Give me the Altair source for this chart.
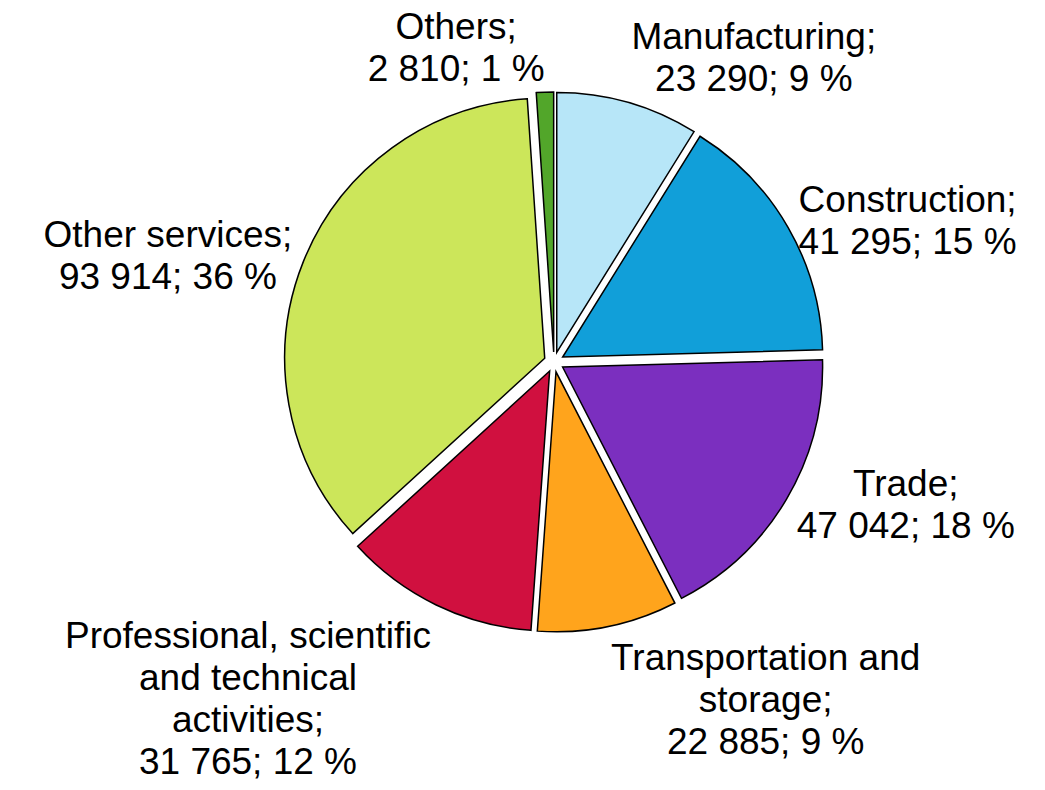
import math
import altair as alt
import pandas as pd

# ---- data ----
sectors = ["Manufacturing", "Construction", "Trade", "Transportation and storage",
           "Professional, scientific and technical activities", "Other services", "Others"]
label_names = ["Manufacturing", "Construction", "Trade", "Transportation and\nstorage",
               "Professional, scientific\nand technical\nactivities", "Other services", "Others"]
values = [23290, 41295, 47042, 22885, 31765, 93914, 2810]
percents = [9, 15, 18, 9, 12, 36, 1]
colors = ["#B7E6F8", "#119FD9", "#7B2FBF", "#FFA41C", "#D0103F", "#CCE65A", "#52A62A"]

# ---- style / layout ----
FONT = "Liberation Sans"
FS = 37
LH = 42
W, H = 1029, 774
CX, CY = 546, 354          # pie centre inside the view
R = 260                    # pie radius
EXPL = 10                  # explode distance
LR = 282                   # label anchor distance

# Arial/Helvetica advance widths (per 1000 em) for measuring label blocks
AW = {" ": 278, ";": 278, ",": 278, "%": 889, "C": 722, "M": 833, "O": 778, "P": 667, "T": 611,
      "a": 556, "b": 556, "c": 500, "d": 556, "e": 556, "f": 278, "g": 556, "h": 556, "i": 222,
      "j": 222, "k": 500, "l": 222, "m": 833, "n": 556, "o": 556, "p": 556, "q": 556, "r": 333,
      "s": 500, "t": 278, "u": 556, "v": 500, "w": 722, "x": 500, "y": 500, "z": 500}


def text_w(s):
    return sum(AW.get(ch, 556) for ch in s) * FS / 1000.0


def fmt(v):
    return f"{v:,}".replace(",", " ")


labels = [f"{n};\n{fmt(v)}; {p} %" for n, v, p in zip(label_names, values, percents)]
n_lines = [len(lab.split("\n")) for lab in labels]
half_w = [max(text_w(line) for line in lab.split("\n")) / 2 for lab in labels]
half_h_below = [n * LH / 2 for n in n_lines]                    # block hanging below the pie
half_h_above = [(n - 1) * LH / 2 + 0.28 * FS for n in n_lines]  # block sitting above the pie
first_off = [(n - 1) * LH / 2 for n in n_lines]                 # block centre -> first line

df = pd.DataFrame({
    "sector": sectors,
    "value": values,
    "idx": list(range(len(sectors))),
    "label": labels,
    "hw": half_w,
    "hb": half_h_below,
    "ha": half_h_above,
    "fo": first_off,
})

xscale = alt.Scale(domain=[-CX, W - CX], range=[0, W], zero=False, nice=False)
yscale = alt.Scale(domain=[-(H - CY), CY], range=[H, 0], zero=False, nice=False)

base = alt.Chart(df).transform_joinaggregate(
    total="sum(value)"
).transform_window(
    cum="sum(value)", sort=[alt.SortField("idx", order="ascending")], frame=[None, 0]
).transform_calculate(
    start="(datum.cum - datum.value) / datum.total",
    end="datum.cum / datum.total",
).transform_calculate(
    mid="PI * (datum.start + datum.end)"
).transform_calculate(
    ex=f"{EXPL} * sin(datum.mid)",
    ey=f"{EXPL} * cos(datum.mid)",
    lx=f"{LR} * sin(datum.mid) + (sin(datum.mid) >= 0 ? 1 : -1) * datum.hw",
    ly=(f"{LR} * cos(datum.mid) + (cos(datum.mid) > 0.8 ? datum.ha : "
        f"(cos(datum.mid) < -0.8 ? -datum.hb : 0)) + datum.fo"),
)

pie = base.mark_arc(radius=R, stroke="black", strokeWidth=1.5).encode(
    x=alt.X("ex:Q", scale=xscale, axis=None),
    y=alt.Y("ey:Q", scale=yscale, axis=None),
    theta=alt.Theta("start:Q", stack=None,
                    scale=alt.Scale(domain=[0, 1], range=[0, 2 * math.pi])),
    theta2="end:Q",
    color=alt.Color("sector:N", scale=alt.Scale(domain=sectors, range=colors), legend=None),
)

text = base.mark_text(font=FONT, fontSize=FS, lineBreak="\n", lineHeight=LH,
                      align="center", baseline="middle", color="black").encode(
    x=alt.X("lx:Q", scale=xscale, axis=None),
    y=alt.Y("ly:Q", scale=yscale, axis=None),
    text="label:N",
)

chart = alt.layer(pie, text).properties(
    width=W, height=H, padding=0,
    autosize=alt.AutoSizeParams(type="none"),
).configure_view(stroke=None)

chart.save("out.html", embed_options={"renderer": "svg", "actions": False})
